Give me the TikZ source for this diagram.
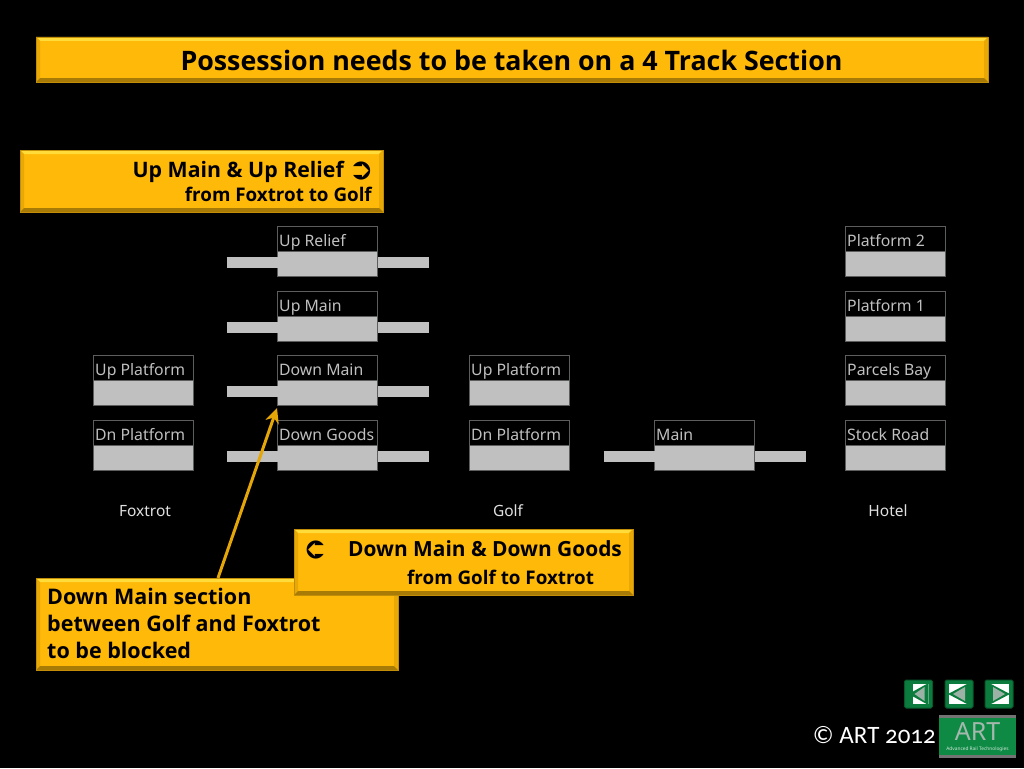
\documentclass[tikz,border=0pt]{standalone}
\usepackage{fontspec}
\setmainfont{Open Sans}
\newfontfamily\trackfont{Noto Sans}
\newfontfamily\footfont[Numbers=OldStyle]{Carlito}
\newfontfamily\symfont{DejaVu Sans}
\usetikzlibrary{positioning,arrows.meta,calc}
\definecolor{panelfill}{HTML}{FFB908}
\definecolor{paneltop}{HTML}{FFDC3A}
\definecolor{panelside}{HTML}{E8A806}
\definecolor{panellow}{HTML}{A87A06}
\definecolor{trackgrey}{HTML}{C0C0C0}
\definecolor{trackedge}{HTML}{5C5E5E}
\definecolor{navgreen}{HTML}{0C7C3E}
\definecolor{logogreen}{HTML}{0F8A45}
\newcommand{\fsize}[1]{\fontsize{#1}{#1}\selectfont}

\begin{document}
\begin{tikzpicture}[x=1pt,y=-1pt]
  \tikzset{panel/.style = {shape=rectangle,anchor=north west,fill=panelfill,draw=panellow!70!panelfill,line width=0.8pt,inner sep=0pt,outer sep=0pt,
    path picture={
      \fill[paneltop] (path picture bounding box.north west) -- (path picture bounding box.north east)
        -- ++(-4pt,-4pt) -- ($(path picture bounding box.north west)+(4pt,-4pt)$) -- cycle;
      \fill[panelside] (path picture bounding box.north west) -- (path picture bounding box.south west)
        -- ++(4pt,4pt) -- ($(path picture bounding box.north west)+(4pt,-4pt)$) -- cycle;
      \fill[panelside] (path picture bounding box.north east) -- (path picture bounding box.south east)
        -- ++(-4pt,4pt) -- ($(path picture bounding box.north east)+(-4pt,-4pt)$) -- cycle;
      \fill[panellow] (path picture bounding box.south west) -- (path picture bounding box.south east)
        -- ++(-4pt,4pt) -- ($(path picture bounding box.south west)+(4pt,4pt)$) -- cycle;
    }}}
  \tikzset{paneltext/.style = {text=black,font=\bfseries\fsize{20},inner sep=0pt,anchor=base west}}
  \tikzset{tracktitle/.style = {shape=rectangle,anchor=north west,draw=trackedge,line width=1pt,fill=black,
    minimum width=100pt,minimum height=25pt,inner sep=0pt,outer sep=0pt}}
  \tikzset{trackbody/.style = {shape=rectangle,anchor=north,draw=trackedge,line width=1pt,fill=trackgrey,
    minimum width=100pt,minimum height=25pt,inner sep=0pt,outer sep=0pt}}
  \tikzset{tracktext/.style = {text=trackgrey,font=\trackfont\fsize{15.8},inner sep=0pt,anchor=base west}}
  \tikzset{stub/.style = {draw=trackgrey,line width=11pt}}
  \tikzset{placetext/.style = {text=white!88!black,font=\trackfont\fsize{15.5},inner sep=0pt,anchor=base}}
  \tikzset{navbox/.style = {shape=rectangle,draw=navgreen!70!black,fill=navgreen,rounded corners=1.5pt,line width=1pt,
    minimum size=28pt,inner sep=0pt,outer sep=0pt}}
  \fill[black] (0,0) rectangle (1024,768);
  \useasboundingbox (0,0) rectangle (1024,768);

  % heading
  \node[panel,minimum width=952pt,minimum height=45pt] (heading) at (36,37) {};
  \node[text=black,font=\bfseries\fsize{26.8},inner sep=0pt] (headingtext) at (511.5,60) {Possession needs to be taken on a 4 Track Section};

  % up direction
  \node[panel,minimum width=363pt,minimum height=62pt] (uppanel) at (20,150) {};
  \node[paneltext,font=\bfseries\fsize{21.3},anchor=base east] (uptext) at (344,177) {Up Main \& Up Relief};
  \node[paneltext,font=\symfont\bfseries\fsize{30},anchor=base east] (upsym) at (374,179) {➲};
  \node[paneltext,font=\bfseries\fsize{18.8},anchor=base east] (upsub) at (372,201) {from Foxtrot to Golf};

  % tracks
  \foreach \name/\x/\y/\txt in {a/93/355/Up Platform,b/93/420/Dn Platform,
      c/277/226/Up Relief,d/277/291/Up Main,e/277/355/Down Main,f/277/420/Down Goods,
      g/469/355/Up Platform,h/469/420/Dn Platform,i/654/420/Main,
      j/845/226/Platform 2,k/845/291/Platform 1,l/845/355/Parcels Bay,m/845/420/Stock Road}{
    \node[tracktitle] (\name top) at (\x.5,\y.5) {};
    \node[trackbody,below=0pt of \name top] (\name) {};
    \node[tracktext] (\name text) at (\x+2,\y+20) {\txt};
  }

  % stubs either side of the sections
  \foreach \name/\len in {c/51,d/51,e/51,f/51,i/51}{
    \coordinate (\name west) at ($(\name.west)+(-\len pt,1.5pt)$);
    \coordinate (\name east) at ($(\name.east)+(\len pt,1.5pt)$);
    \draw[stub] (\name west) -- (\name west -| \name.west);
    \draw[stub] (\name east) -- (\name east -| \name.east);
  }

  % places
  \node[placetext] (foxtrot) at (145,516) {Foxtrot};
  \node[placetext] (golf) at (508,516) {Golf};
  \node[placetext] (hotel) at (888,516) {Hotel};

  % note and down direction
  \node[panel,minimum width=362pt,minimum height=92pt] (note) at (36,578) {};
  \node[paneltext,font=\bfseries\fsize{21.5}] (notea) at (47,604) {Down Main section};
  \node[paneltext,font=\bfseries\fsize{21.5}] (noteb) at (47,631) {between Golf and Foxtrot};
  \node[paneltext,font=\bfseries\fsize{21.5}] (notec) at (47,658) {to be blocked};

  \coordinate (arrowtail) at (218,578);
  \coordinate (arrowhead) at (277,408);
  \draw[-{Stealth[length=15pt,width=14pt]},line width=3pt,draw=panelfill!90!black] (arrowtail) -- (arrowhead);

  \node[panel,minimum width=339pt,minimum height=66pt] (downpanel) at (294,529) {};
  \node[paneltext,font=\symfont\bfseries\fsize{30}] (downsym) at (303,558) {\reflectbox{➲}};
  \node[paneltext,font=\bfseries\fsize{20.9}] (downtext) at (348,556) {Down Main \& Down Goods};
  \node[paneltext,font=\bfseries\fsize{18.8}] (downsub) at (407,584) {from Golf to Foxtrot};

  % footer buttons
  \foreach \name/\cx in {first/918.5,back/959,next/999}{
    \node[navbox] (\name) at (\cx,694) {};
  }
  \fill[white] (first.center) +(-10,-10) rectangle +(10,10);
  \fill[white] (back.center) +(-10,-10) rectangle +(10,10);
  \fill[white] (next.center) +(-10,-10) rectangle +(10,10);
  \fill[navgreen] (first.center) +(-10,0) -- +(10,-11) -- +(10,11) -- cycle;
  \fill[navgreen] (back.center) +(-11,0) -- +(10,-11) -- +(10,11) -- cycle;
  \fill[navgreen] (next.center) +(11,0) -- +(-10,-11) -- +(-10,11) -- cycle;
  \fill[navgreen] (first.center) +(-10,-10) rectangle +(-6,10);
  \fill[trackgrey!80!navgreen] (first.center) +(-4,0) -- +(6,-7) -- +(6,7) -- cycle;
  \fill[trackgrey!80!navgreen] (back.center) +(-6,0) -- +(6,-7) -- +(6,7) -- cycle;
  \fill[trackgrey!80!navgreen] (next.center) +(6,0) -- +(-6,-7) -- +(-6,7) -- cycle;

  \node[text=white,font=\footfont\fsize{25},inner sep=0pt,anchor=base east] (copyright) at (936,743) {© ART 2012};

  \node[shape=rectangle,anchor=north west,fill=logogreen,minimum width=77pt,minimum height=43pt,inner sep=0pt,outer sep=0pt] (logo) at (939,715) {};
  \fill[trackgrey!60!black] (logo.north west) rectangle ($(logo.north east)+(0,3)$);
  \fill[trackgrey!60!black] (logo.south west) rectangle ($(logo.south east)+(0,-3)$);
  \node[text=trackgrey!85!logogreen,font=\trackfont\fsize{25},inner sep=0pt,anchor=base] (logotext) at (977.5,740) {ART};
  \node[text=white!80!logogreen,font=\trackfont\fsize{4.8},inner sep=0pt,anchor=base] (logosub) at (977.5,750) {Advanced Rail Technologies};
\end{tikzpicture}
\end{document}
